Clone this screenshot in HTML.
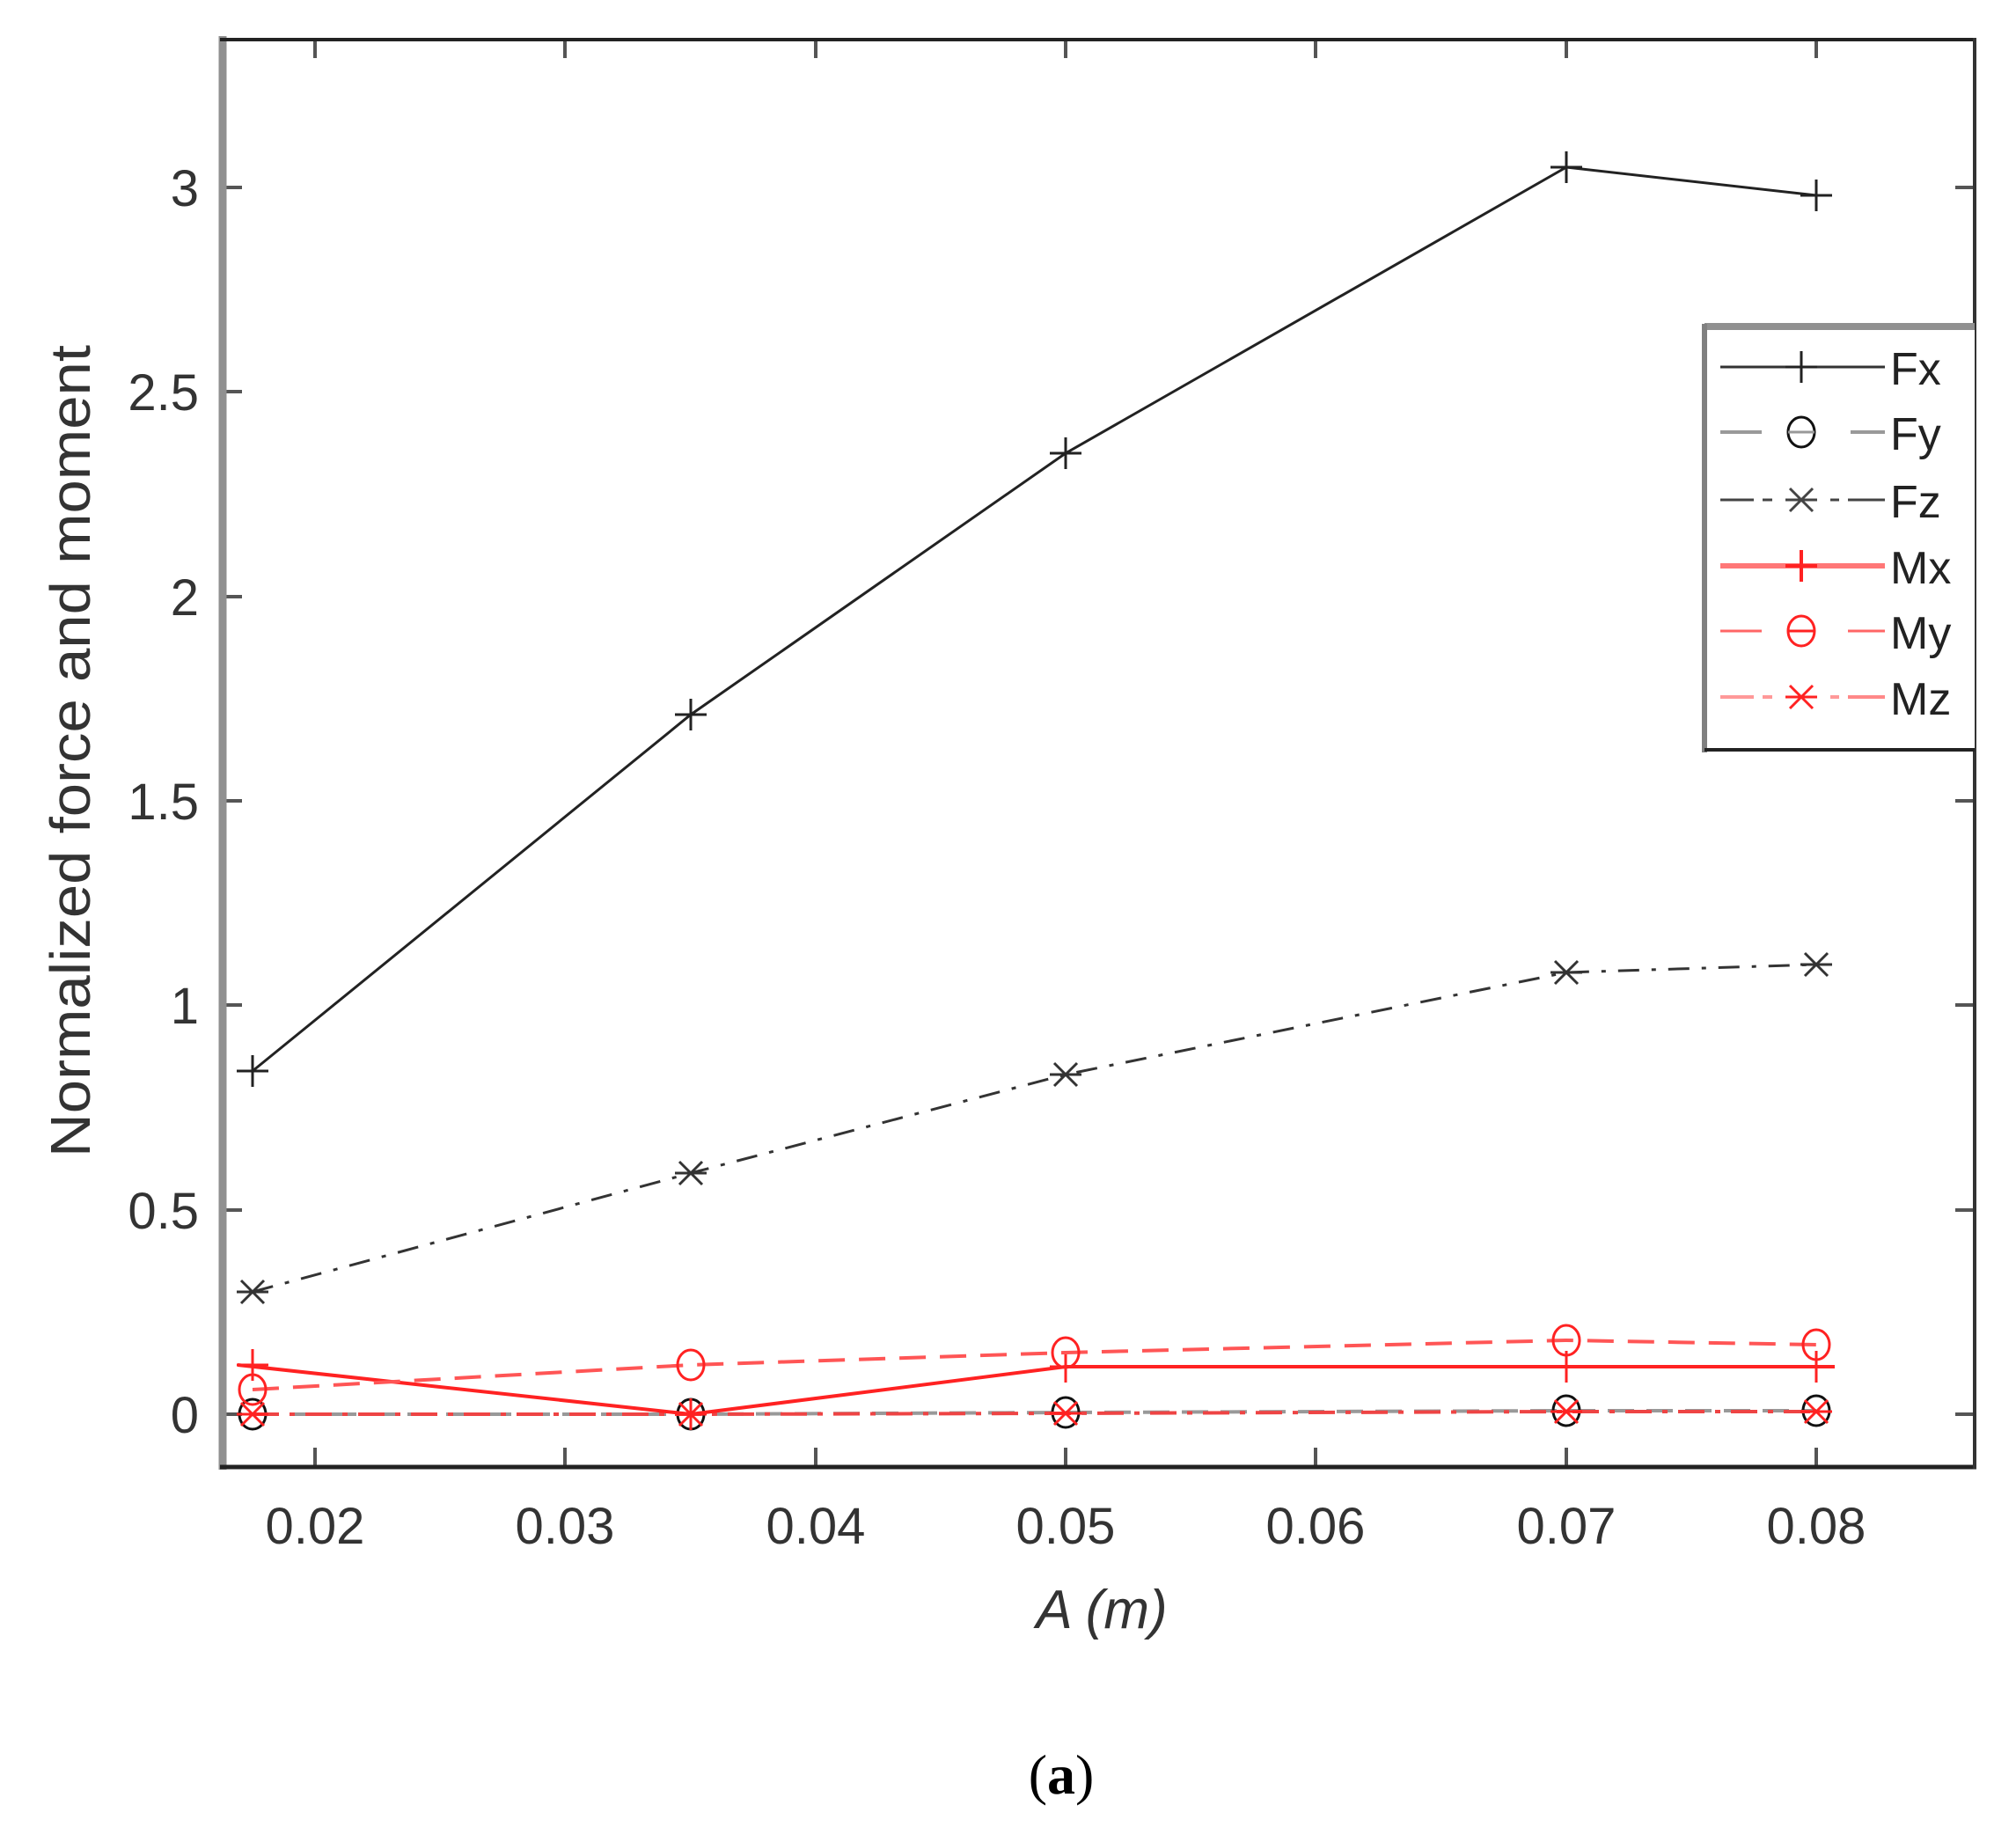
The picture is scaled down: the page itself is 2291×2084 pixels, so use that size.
<!DOCTYPE html>
<html><head><meta charset="utf-8"><style>
html,body{margin:0;padding:0;background:#fff;}
svg{display:block;}
</style></head><body>
<svg width="2291" height="2084" viewBox="0 0 2291 2084" xmlns="http://www.w3.org/2000/svg">
<defs>
<g id="plus"><line x1="-18" y1="0" x2="18" y2="0"/><line x1="0" y1="-18" x2="0" y2="18"/></g>
<g id="xm"><line x1="-13" y1="-13" x2="13" y2="13"/><line x1="-13" y1="13" x2="13" y2="-13"/><line x1="-18" y1="0" x2="18" y2="0"/></g>
<g id="circ"><ellipse cx="0" cy="0" rx="15" ry="17" fill="none"/></g>
</defs>
<rect width="2291" height="2084" fill="#fff"/>
<g stroke="#555" stroke-width="4">
<line x1="358" y1="1667" x2="358" y2="1645"/><line x1="642" y1="1667" x2="642" y2="1645"/><line x1="927" y1="1667" x2="927" y2="1645"/><line x1="1211" y1="1667" x2="1211" y2="1645"/><line x1="1495" y1="1667" x2="1495" y2="1645"/><line x1="1780" y1="1667" x2="1780" y2="1645"/><line x1="2064" y1="1667" x2="2064" y2="1645"/>
<line x1="358" y1="45" x2="358" y2="66"/><line x1="642" y1="45" x2="642" y2="66"/><line x1="927" y1="45" x2="927" y2="66"/><line x1="1211" y1="45" x2="1211" y2="66"/><line x1="1495" y1="45" x2="1495" y2="66"/><line x1="1780" y1="45" x2="1780" y2="66"/><line x1="2064" y1="45" x2="2064" y2="66"/>
<line x1="253" y1="1607" x2="275" y2="1607"/><line x1="253" y1="1375" x2="275" y2="1375"/><line x1="253" y1="1142" x2="275" y2="1142"/><line x1="253" y1="910" x2="275" y2="910"/><line x1="253" y1="678" x2="275" y2="678"/><line x1="253" y1="445" x2="275" y2="445"/><line x1="253" y1="213" x2="275" y2="213"/>
<line x1="2244" y1="1607" x2="2222" y2="1607"/><line x1="2244" y1="1375" x2="2222" y2="1375"/><line x1="2244" y1="1142" x2="2222" y2="1142"/><line x1="2244" y1="910" x2="2222" y2="910"/><line x1="2244" y1="678" x2="2222" y2="678"/><line x1="2244" y1="445" x2="2222" y2="445"/><line x1="2244" y1="213" x2="2222" y2="213"/>
</g>
<line x1="253" y1="41" x2="253" y2="1670" stroke="#909090" stroke-width="9"/>
<line x1="250" y1="45" x2="2246" y2="45" stroke="#222" stroke-width="4"/>
<line x1="250" y1="1667" x2="2246" y2="1667" stroke="#222" stroke-width="5"/>
<line x1="2244" y1="43" x2="2244" y2="1669" stroke="#333" stroke-width="4"/>
<g font-family="Liberation Sans, sans-serif" font-size="58" fill="#333">
<g text-anchor="end">
<text x="226" y="1628">0</text><text x="226" y="1396">0.5</text><text x="226" y="1163">1</text><text x="226" y="931">1.5</text><text x="226" y="699">2</text><text x="226" y="466">2.5</text><text x="226" y="234">3</text>
</g>
<g text-anchor="middle">
<text x="358" y="1754">0.02</text><text x="642" y="1754">0.03</text><text x="927" y="1754">0.04</text><text x="1211" y="1754">0.05</text><text x="1495" y="1754">0.06</text><text x="1780" y="1754">0.07</text><text x="2064" y="1754">0.08</text>
</g>
<text x="1252" y="1850" text-anchor="middle" font-style="italic" font-size="62">A (m)</text>
<text transform="translate(102,1315) rotate(-90)" x="0" y="0" font-size="64" textLength="923" lengthAdjust="spacingAndGlyphs">Normalized force and moment</text>
</g>
<text x="1206" y="2038" text-anchor="middle" font-family="Liberation Serif, serif" font-size="64" fill="#000">(<tspan font-weight="bold">a</tspan>)</text>
<polyline points="287,1607 785,1607 1211,1605 1780,1603 2064,1603" fill="none" stroke="#999" stroke-width="4" stroke-dasharray="30,14"/>
<g stroke="#111" stroke-width="3" fill="none">
<use href="#circ" x="287" y="1607"/><use href="#circ" x="785" y="1607"/><use href="#circ" x="1211" y="1605"/><use href="#circ" x="1780" y="1603"/><use href="#circ" x="2064" y="1603"/>
</g>
<polyline points="287,1607 785,1607 1211,1606 1780,1604 2064,1604" fill="none" stroke="#e44" stroke-width="4" stroke-dasharray="30,12,6,12"/>
<g stroke="#f22" stroke-width="3">
<use href="#xm" x="287" y="1607"/><use href="#xm" x="785" y="1607"/><use href="#xm" x="1211" y="1606"/><use href="#xm" x="1780" y="1604"/><use href="#xm" x="2064" y="1604"/>
</g>
<polyline points="287,1217 785,812 1211,515 1780,190 2064,222" fill="none" stroke="#222" stroke-width="3"/>
<g stroke="#222" stroke-width="3">
<use href="#plus" x="287" y="1217"/><use href="#plus" x="785" y="812"/><use href="#plus" x="1211" y="515"/><use href="#plus" x="1780" y="190"/><use href="#plus" x="2064" y="222"/>
</g>
<polyline points="287,1468 785,1333 1211,1221 1780,1105 2064,1096" fill="none" stroke="#333" stroke-width="3" stroke-dasharray="24,14,5,14"/>
<g stroke="#333" stroke-width="3">
<use href="#xm" x="287" y="1468"/><use href="#xm" x="785" y="1333"/><use href="#xm" x="1211" y="1221"/><use href="#xm" x="1780" y="1105"/><use href="#xm" x="2064" y="1096"/>
</g>
<polyline points="270,1551 785,1607 1211,1553 2085,1553" fill="none" stroke="#f22" stroke-width="4"/>
<g stroke="#f22" stroke-width="3">
<use href="#plus" x="287" y="1551"/><use href="#plus" x="785" y="1607"/><use href="#plus" x="1211" y="1553"/><use href="#plus" x="1780" y="1553"/><use href="#plus" x="2064" y="1553"/>
</g>
<polyline points="287,1579 785,1551 1211,1537 1780,1523 2064,1528" fill="none" stroke="#f55" stroke-width="4" stroke-dasharray="30,16"/>
<g stroke="#f22" stroke-width="3" fill="none">
<use href="#circ" x="287" y="1579"/><use href="#circ" x="785" y="1551"/><use href="#circ" x="1211" y="1537"/><use href="#circ" x="1780" y="1523"/><use href="#circ" x="2064" y="1528"/>
</g>
<rect x="1937" y="371" width="307" height="482" fill="#fff"/>
<line x1="1937" y1="371" x2="2244" y2="371" stroke="#909090" stroke-width="8"/>
<line x1="1937" y1="368" x2="1937" y2="855" stroke="#808080" stroke-width="6"/>
<line x1="1937" y1="852" x2="2244" y2="852" stroke="#222" stroke-width="4"/>
<g>
<line x1="1955" y1="417" x2="2142" y2="417" stroke="#333" stroke-width="3"/>
<use href="#plus" x="2047" y="417" stroke="#222" stroke-width="3"/>
<line x1="1955" y1="491" x2="2002" y2="491" stroke="#999" stroke-width="4"/><line x1="2103" y1="491" x2="2142" y2="491" stroke="#999" stroke-width="4"/>
<use href="#circ" x="2047" y="491" stroke="#111" stroke-width="3"/><line x1="2032" y1="491" x2="2062" y2="491" stroke="#999" stroke-width="3"/>
<line x1="1955" y1="568" x2="1993" y2="568" stroke="#444" stroke-width="3"/><line x1="2003" y1="568" x2="2014" y2="568" stroke="#444" stroke-width="3"/><line x1="2080" y1="568" x2="2090" y2="568" stroke="#444" stroke-width="3"/><line x1="2100" y1="568" x2="2142" y2="568" stroke="#444" stroke-width="3"/>
<use href="#xm" x="2047" y="568" stroke="#444" stroke-width="3"/>
<line x1="1955" y1="643" x2="2142" y2="643" stroke="#f77" stroke-width="6"/>
<use href="#plus" x="2047" y="643" stroke="#f22" stroke-width="4"/>
<line x1="1955" y1="717" x2="2002" y2="717" stroke="#f66" stroke-width="3"/><line x1="2100" y1="717" x2="2142" y2="717" stroke="#f66" stroke-width="3"/>
<use href="#circ" x="2047" y="717" stroke="#f22" stroke-width="3"/><line x1="2032" y1="717" x2="2062" y2="717" stroke="#f22" stroke-width="3"/>
<line x1="1955" y1="792" x2="1993" y2="792" stroke="#f99" stroke-width="4"/><line x1="2003" y1="792" x2="2014" y2="792" stroke="#f99" stroke-width="4"/><line x1="2080" y1="792" x2="2090" y2="792" stroke="#f99" stroke-width="4"/><line x1="2100" y1="792" x2="2142" y2="792" stroke="#f88" stroke-width="4"/>
<use href="#xm" x="2047" y="792" stroke="#f22" stroke-width="3"/>
</g>
<g font-family="Liberation Sans, sans-serif" font-size="52" fill="#222">
<text x="2148" y="437">Fx</text><text x="2148" y="511">Fy</text><text x="2148" y="588">Fz</text>
<text x="2148" y="663">Mx</text><text x="2148" y="737">My</text><text x="2148" y="812">Mz</text>
</g>
</svg>
</body></html>
